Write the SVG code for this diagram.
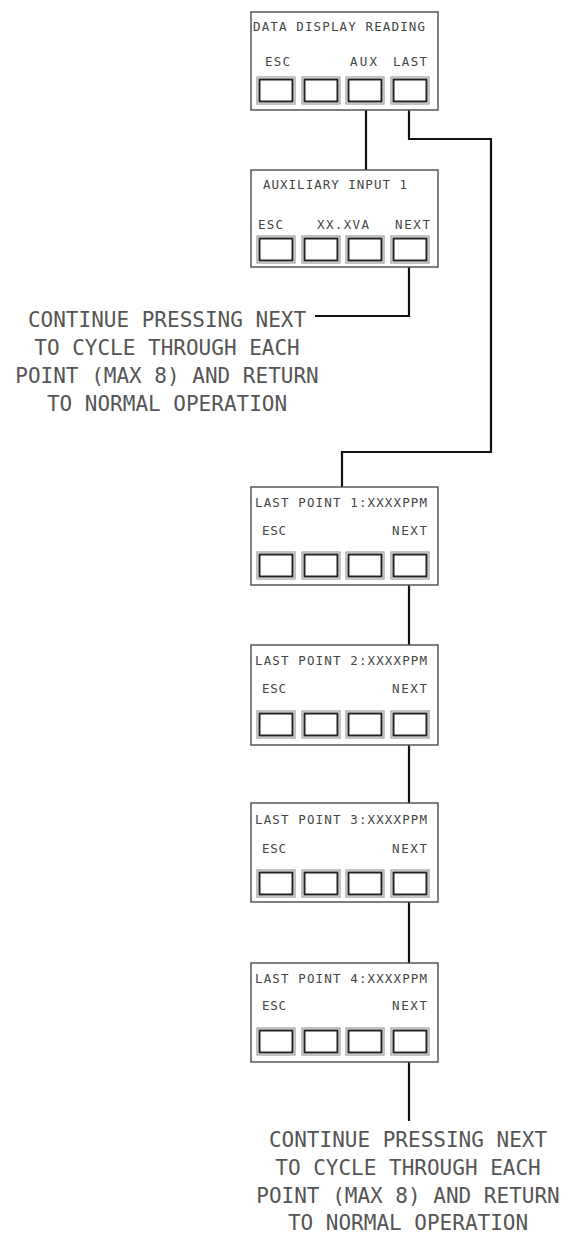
<svg xmlns="http://www.w3.org/2000/svg" width="568" height="1236" viewBox="0 0 568 1236">
<style>
.box{fill:#fff;stroke:#555;stroke-width:1.5}
.bo{fill:none;stroke:#888;stroke-width:1}
.bi{fill:none;stroke:#222;stroke-width:2}
.t{font-family:"DejaVu Sans Mono","Liberation Mono",monospace;font-size:12.5px;fill:#444}
.big{font-family:"DejaVu Sans Mono","Liberation Mono",monospace;font-size:21px;fill:#555;text-anchor:middle}
.c{fill:none;stroke:#111;stroke-width:2.2}
</style>
<defs>
<g id="btns">
<rect class="bo" x="257" y="0" width="38" height="27"/><rect class="bi" x="259.5" y="2.5" width="33" height="22"/>
<rect class="bo" x="302" y="0" width="38" height="27"/><rect class="bi" x="304.5" y="2.5" width="33" height="22"/>
<rect class="bo" x="346" y="0" width="38" height="27"/><rect class="bi" x="348.5" y="2.5" width="33" height="22"/>
<rect class="bo" x="391" y="0" width="38" height="27"/><rect class="bi" x="393.5" y="2.5" width="33" height="22"/>
</g>
</defs>
<g id="connectors">
<path class="c" d="M366 110 V170"/>
<path class="c" d="M409 110 V139 H491 V452 H342 V487"/>
<path class="c" d="M409 267 V316 H315"/>
<path class="c" d="M409 585 V645"/>
<path class="c" d="M409 745 V803"/>
<path class="c" d="M409 902 V963"/>
<path class="c" d="M409 1062 V1121"/>
</g>
<g id="node-data-display">
<rect class="box" x="251" y="12" width="187" height="98"/>
<text class="t" x="253" y="31" textLength="172">DATA DISPLAY READING</text>
<text class="t" x="265" y="66" textLength="25">ESC</text>
<text class="t" x="350" y="66" textLength="27">AUX</text>
<text class="t" x="393" y="66" textLength="34">LAST</text>
<use href="#btns" y="77"/>
</g>
<g id="node-aux-input">
<rect class="box" x="251" y="170" width="187" height="97"/>
<text class="t" x="263" y="189" textLength="144">AUXILIARY INPUT 1</text>
<text class="t" x="258" y="229" textLength="25">ESC</text>
<text class="t" x="317" y="229" textLength="52">XX.XVA</text>
<text class="t" x="395" y="229" textLength="35">NEXT</text>
<use href="#btns" y="236"/>
</g>
<g id="note-aux">
<text class="big" x="167" y="327">CONTINUE PRESSING NEXT</text>
<text class="big" x="167" y="355">TO CYCLE THROUGH EACH</text>
<text class="big" x="167" y="383">POINT (MAX 8) AND RETURN</text>
<text class="big" x="167" y="411">TO NORMAL OPERATION</text>
</g>
<g id="node-last-1">
<rect class="box" x="251" y="487" width="187" height="98"/>
<text class="t" x="255" y="507" textLength="172">LAST POINT 1:XXXXPPM</text>
<text class="t" x="262" y="535" textLength="24">ESC</text>
<text class="t" x="392" y="535" textLength="35">NEXT</text>
<use href="#btns" y="552"/>
</g>
<g id="node-last-2">
<rect class="box" x="251" y="645" width="187" height="100"/>
<text class="t" x="255" y="665" textLength="172">LAST POINT 2:XXXXPPM</text>
<text class="t" x="262" y="693" textLength="24">ESC</text>
<text class="t" x="392" y="693" textLength="35">NEXT</text>
<use href="#btns" y="711"/>
</g>
<g id="node-last-3">
<rect class="box" x="251" y="803" width="187" height="99"/>
<text class="t" x="255" y="824" textLength="172">LAST POINT 3:XXXXPPM</text>
<text class="t" x="262" y="853" textLength="24">ESC</text>
<text class="t" x="392" y="853" textLength="35">NEXT</text>
<use href="#btns" y="870"/>
</g>
<g id="node-last-4">
<rect class="box" x="251" y="963" width="187" height="99"/>
<text class="t" x="255" y="983" textLength="172">LAST POINT 4:XXXXPPM</text>
<text class="t" x="262" y="1010" textLength="24">ESC</text>
<text class="t" x="392" y="1010" textLength="35">NEXT</text>
<use href="#btns" y="1028"/>
</g>
<g id="note-last">
<text class="big" x="408" y="1147">CONTINUE PRESSING NEXT</text>
<text class="big" x="408" y="1175">TO CYCLE THROUGH EACH</text>
<text class="big" x="408" y="1203">POINT (MAX 8) AND RETURN</text>
<text class="big" x="408" y="1230">TO NORMAL OPERATION</text>
</g>
</svg>
